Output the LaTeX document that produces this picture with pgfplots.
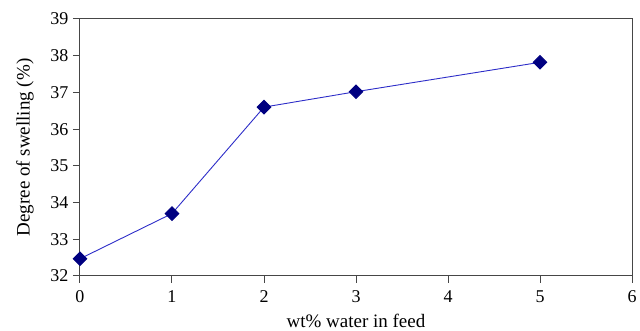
\documentclass[border=0pt]{standalone}
\usepackage{pgfplots}
\pgfplotsset{compat=1.18}
\usepackage{fontspec}
\setmainfont{Liberation Serif}
\definecolor{navyd}{RGB}{0,0,128}
\definecolor{linec}{RGB}{45,45,200}
\definecolor{axisg}{RGB}{70,70,70}
\begin{document}
\begin{tikzpicture}
\begin{axis}[
  name=ax,
  scale only axis,
  width=552pt, height=257pt,
  xmin=0, xmax=6, ymin=32, ymax=39,
  xtick={0,1,2,3,4,5,6}, ytick={32,33,...,39},
  tick align=outside, tick pos=left,
  major tick length=7pt,
  axis line style={axisg, line width=1pt},
  tick style={axisg, line width=1pt},
  /pgf/number format/assume math mode=true,
  ticklabel style={font=\fontsize{18}{21}\selectfont},
  yticklabel style={xshift=-1pt},
  xticklabel style={yshift=-4pt},
  xlabel={wt\% water in feed},
  ylabel={Degree of swelling (\%)},
  every axis x label/.style={at={(axis description cs:0.5,0)}, yshift=-52pt, anchor=base, font=\fontsize{19}{23}\selectfont},
  every axis y label/.style={at={(axis description cs:0,0.5)}, xshift=-55pt, rotate=90, anchor=center, font=\fontsize{19}{23}\selectfont},
]
\addplot[linec, line width=0.9pt, mark=square*, mark size=4.8pt, mark options={navyd, fill=navyd, solid, rotate=45}] coordinates {
(0,32.47) (1,33.7) (2,36.6) (3,37.02) (5,37.82)
};
\end{axis}
\pgfresetboundingbox
\path (ax.south west) ++(-80pt,-55pt) rectangle ++(640pt,331pt);
\end{tikzpicture}
\end{document}
